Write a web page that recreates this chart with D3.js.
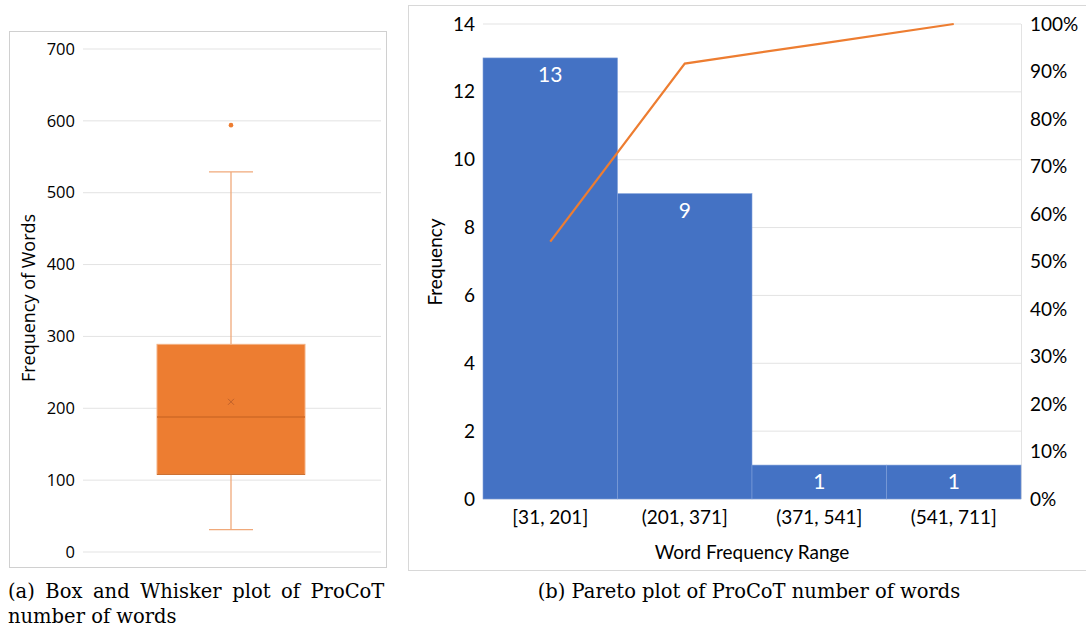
<!DOCTYPE html>
<html>
<head>
<meta charset="utf-8">
<script src="https://cdn.jsdelivr.net/npm/d3@7"></script>
<style>
  body { margin: 0; background: #fff; }
  svg { display: block; }
</style>
</head>
<body>
<svg id="chart" width="1086" height="630"></svg>
<script>
// box plot summary (words per sample)
var boxStats = { min: 31, q1: 108, median: 188, mean: 209, q3: 289, max: 529 };
var outliers = [594];
var boxTicks = [0, 100, 200, 300, 400, 500, 600, 700];

// pareto data
var bins = ["[31, 201]", "(201, 371]", "(371, 541]", "(541, 711]"];
var counts = [13, 9, 1, 1];
var freqTicks = [0, 2, 4, 6, 8, 10, 12, 14];
var pctTicks = [0, 10, 20, 30, 40, 50, 60, 70, 80, 90, 100];

var orange = "#ED7D31";
var blue = "#4472C4";
var gridCol = "#e3e3e3";

var svg = d3.select("#chart");

// ---------- (a) box and whisker ----------
svg.append("rect").attr("x", 9.5).attr("y", 31.5).attr("width", 377).attr("height", 536)
    .attr("fill", "none").attr("stroke", "#d0d0d0");

var left = { x0: 83, x1: 381, top: 49, bottom: 552 };
var yb = d3.scaleLinear().domain([0, 700]).range([left.bottom, left.top]);
var cx = 231;

var ga = svg.append("g");
ga.selectAll("line.grid").data(boxTicks).enter().append("line")
    .attr("x1", left.x0).attr("x2", left.x1)
    .attr("y1", d => yb(d)).attr("y2", d => yb(d))
    .attr("stroke", gridCol).attr("stroke-width", 1);

var axA = ga.append("g").attr("transform", "translate(" + (left.x0 - 8) + ",0)")
    .call(d3.axisLeft(yb).tickValues(boxTicks).tickSize(0).tickPadding(0));
axA.select(".domain").remove();
axA.selectAll("text").style("font-family", "Open Sans").style("font-size", "16.5px").attr("fill", "#000");

ga.append("text").attr("transform", "translate(35,298) rotate(-90)")
    .attr("text-anchor", "middle").style("font-family", "Open Sans").style("font-size", "18px")
    .text("Frequency of Words");

// whiskers
var wcol = "#f0a97a";
ga.append("line").attr("x1", cx).attr("x2", cx).attr("y1", yb(boxStats.max)).attr("y2", yb(boxStats.q3))
    .attr("stroke", wcol).attr("stroke-width", 1.3);
ga.append("line").attr("x1", cx).attr("x2", cx).attr("y1", yb(boxStats.q1)).attr("y2", yb(boxStats.min))
    .attr("stroke", wcol).attr("stroke-width", 1.3);
[boxStats.max, boxStats.min].forEach(function (v) {
    ga.append("line").attr("x1", cx - 22).attr("x2", cx + 22).attr("y1", yb(v)).attr("y2", yb(v))
        .attr("stroke", wcol).attr("stroke-width", 1.3);
});
ga.append("rect").attr("x", 157).attr("width", 148)
    .attr("y", yb(boxStats.q3)).attr("height", yb(boxStats.q1) - yb(boxStats.q3))
    .attr("fill", orange).attr("stroke", "#f4b183").attr("stroke-width", 1);
ga.append("line").attr("x1", 157).attr("x2", 305).attr("y1", yb(boxStats.q1)).attr("y2", yb(boxStats.q1))
    .attr("stroke", "#c96a2a").attr("stroke-width", 1);
ga.append("line").attr("x1", 157).attr("x2", 305).attr("y1", yb(boxStats.median)).attr("y2", yb(boxStats.median))
    .attr("stroke", "#d06a26").attr("stroke-width", 1.5);
// mean marker
var my = yb(boxStats.mean);
ga.append("path").attr("d", "M" + (cx - 3) + "," + (my - 3) + "L" + (cx + 3) + "," + (my + 3) +
    "M" + (cx - 3) + "," + (my + 3) + "L" + (cx + 3) + "," + (my - 3))
    .attr("stroke", "#c0612a").attr("stroke-width", 1);
ga.selectAll("circle.out").data(outliers).enter().append("circle")
    .attr("cx", cx).attr("cy", d => yb(d)).attr("r", 2.3).attr("fill", orange);

// ---------- (b) pareto ----------
svg.append("rect").attr("x", 408.5).attr("y", 5.5).attr("width", 690).attr("height", 565)
    .attr("fill", "none").attr("stroke", "#d8d8d8");

var pr = { x0: 483, x1: 1021, top: 24, bottom: 499 };
var xp = d3.scaleBand().domain(bins).range([pr.x0, pr.x1]).padding(0);
var yp = d3.scaleLinear().domain([0, 14]).range([pr.bottom, pr.top]);
var yc = d3.scaleLinear().domain([0, 100]).range([pr.bottom, pr.top]);

var gb = svg.append("g");
gb.selectAll("line.grid").data(freqTicks).enter().append("line")
    .attr("x1", pr.x0).attr("x2", pr.x1)
    .attr("y1", d => yp(d)).attr("y2", d => yp(d))
    .attr("stroke", gridCol).attr("stroke-width", 1);
gb.append("line").attr("x1", pr.x1 + 0.5).attr("x2", pr.x1 + 0.5).attr("y1", pr.top).attr("y2", pr.bottom)
    .attr("stroke", gridCol);

gb.selectAll("rect.bar").data(counts).enter().append("rect")
    .attr("x", (d, i) => xp(bins[i])).attr("width", xp.bandwidth())
    .attr("y", d => yp(d)).attr("height", d => yp(0) - yp(d))
    .attr("fill", blue).attr("stroke", "#7f9fd9").attr("stroke-width", 0.6);

gb.selectAll("text.lbl").data(counts).enter().append("text")
    .attr("x", (d, i) => xp(bins[i]) + xp.bandwidth() / 2).attr("y", d => yp(d) + 24)
    .attr("text-anchor", "middle").attr("fill", "#fff")
    .style("font-family", "Lato").style("font-size", "21px").text(d => d);

var total = d3.sum(counts);
var cum = d3.cumsum(counts).map(v => v / total * 100);
var line = d3.line().x((d, i) => xp(bins[i]) + xp.bandwidth() / 2).y(d => yc(d));
gb.append("path").datum(Array.from(cum)).attr("d", line)
    .attr("fill", "none").attr("stroke", orange).attr("stroke-width", 2.2);

var axL = gb.append("g").attr("transform", "translate(" + (pr.x0 - 8) + ",0)")
    .call(d3.axisLeft(yp).tickValues(freqTicks).tickSize(0).tickPadding(0));
axL.select(".domain").remove();
axL.selectAll("text").style("font-family", "Lato").style("font-size", "19px").attr("fill", "#000");

var axR = gb.append("g").attr("transform", "translate(" + pr.x1 + ",0)")
    .call(d3.axisRight(yc).tickValues(pctTicks).tickSize(0).tickPadding(9).tickFormat(d => d + "%"));
axR.select(".domain").remove();
axR.selectAll("text").style("font-family", "Lato").style("font-size", "19px").attr("fill", "#000");

var axB = gb.append("g").attr("transform", "translate(0," + pr.bottom + ")")
    .call(d3.axisBottom(xp).tickSize(0).tickPadding(12));
axB.select(".domain").remove();
axB.selectAll("text").style("font-family", "Lato").style("font-size", "19px").attr("fill", "#000");

gb.append("text").attr("x", (pr.x0 + pr.x1) / 2).attr("y", 559).attr("text-anchor", "middle")
    .style("font-family", "Lato").style("font-size", "19px").text("Word Frequency Range");
gb.append("text").attr("transform", "translate(442,262) rotate(-90)").attr("text-anchor", "middle")
    .style("font-family", "Lato").style("font-size", "19px").text("Frequency");

// ---------- captions ----------
var capFont = "DejaVu Serif";
var capA = svg.append("text").attr("x", 8).attr("y", 598).style("font-family", capFont).style("font-size", "19.5px")
    .text("(a) Box and Whisker plot of ProCoT");
// justify like LaTeX: stretch the word gaps to fill the column
var natural = capA.node().getComputedTextLength();
capA.style("word-spacing", Math.max(0, (372 - natural) / 5) + "px");
svg.append("text").attr("x", 8).attr("y", 623).style("font-family", capFont).style("font-size", "19.5px")
    .text("number of words");
svg.append("text").attr("x", 749).attr("y", 598).attr("text-anchor", "middle")
    .style("font-family", capFont).style("font-size", "19.5px")
    .text("(b) Pareto plot of ProCoT number of words");
</script>
</body>
</html>
